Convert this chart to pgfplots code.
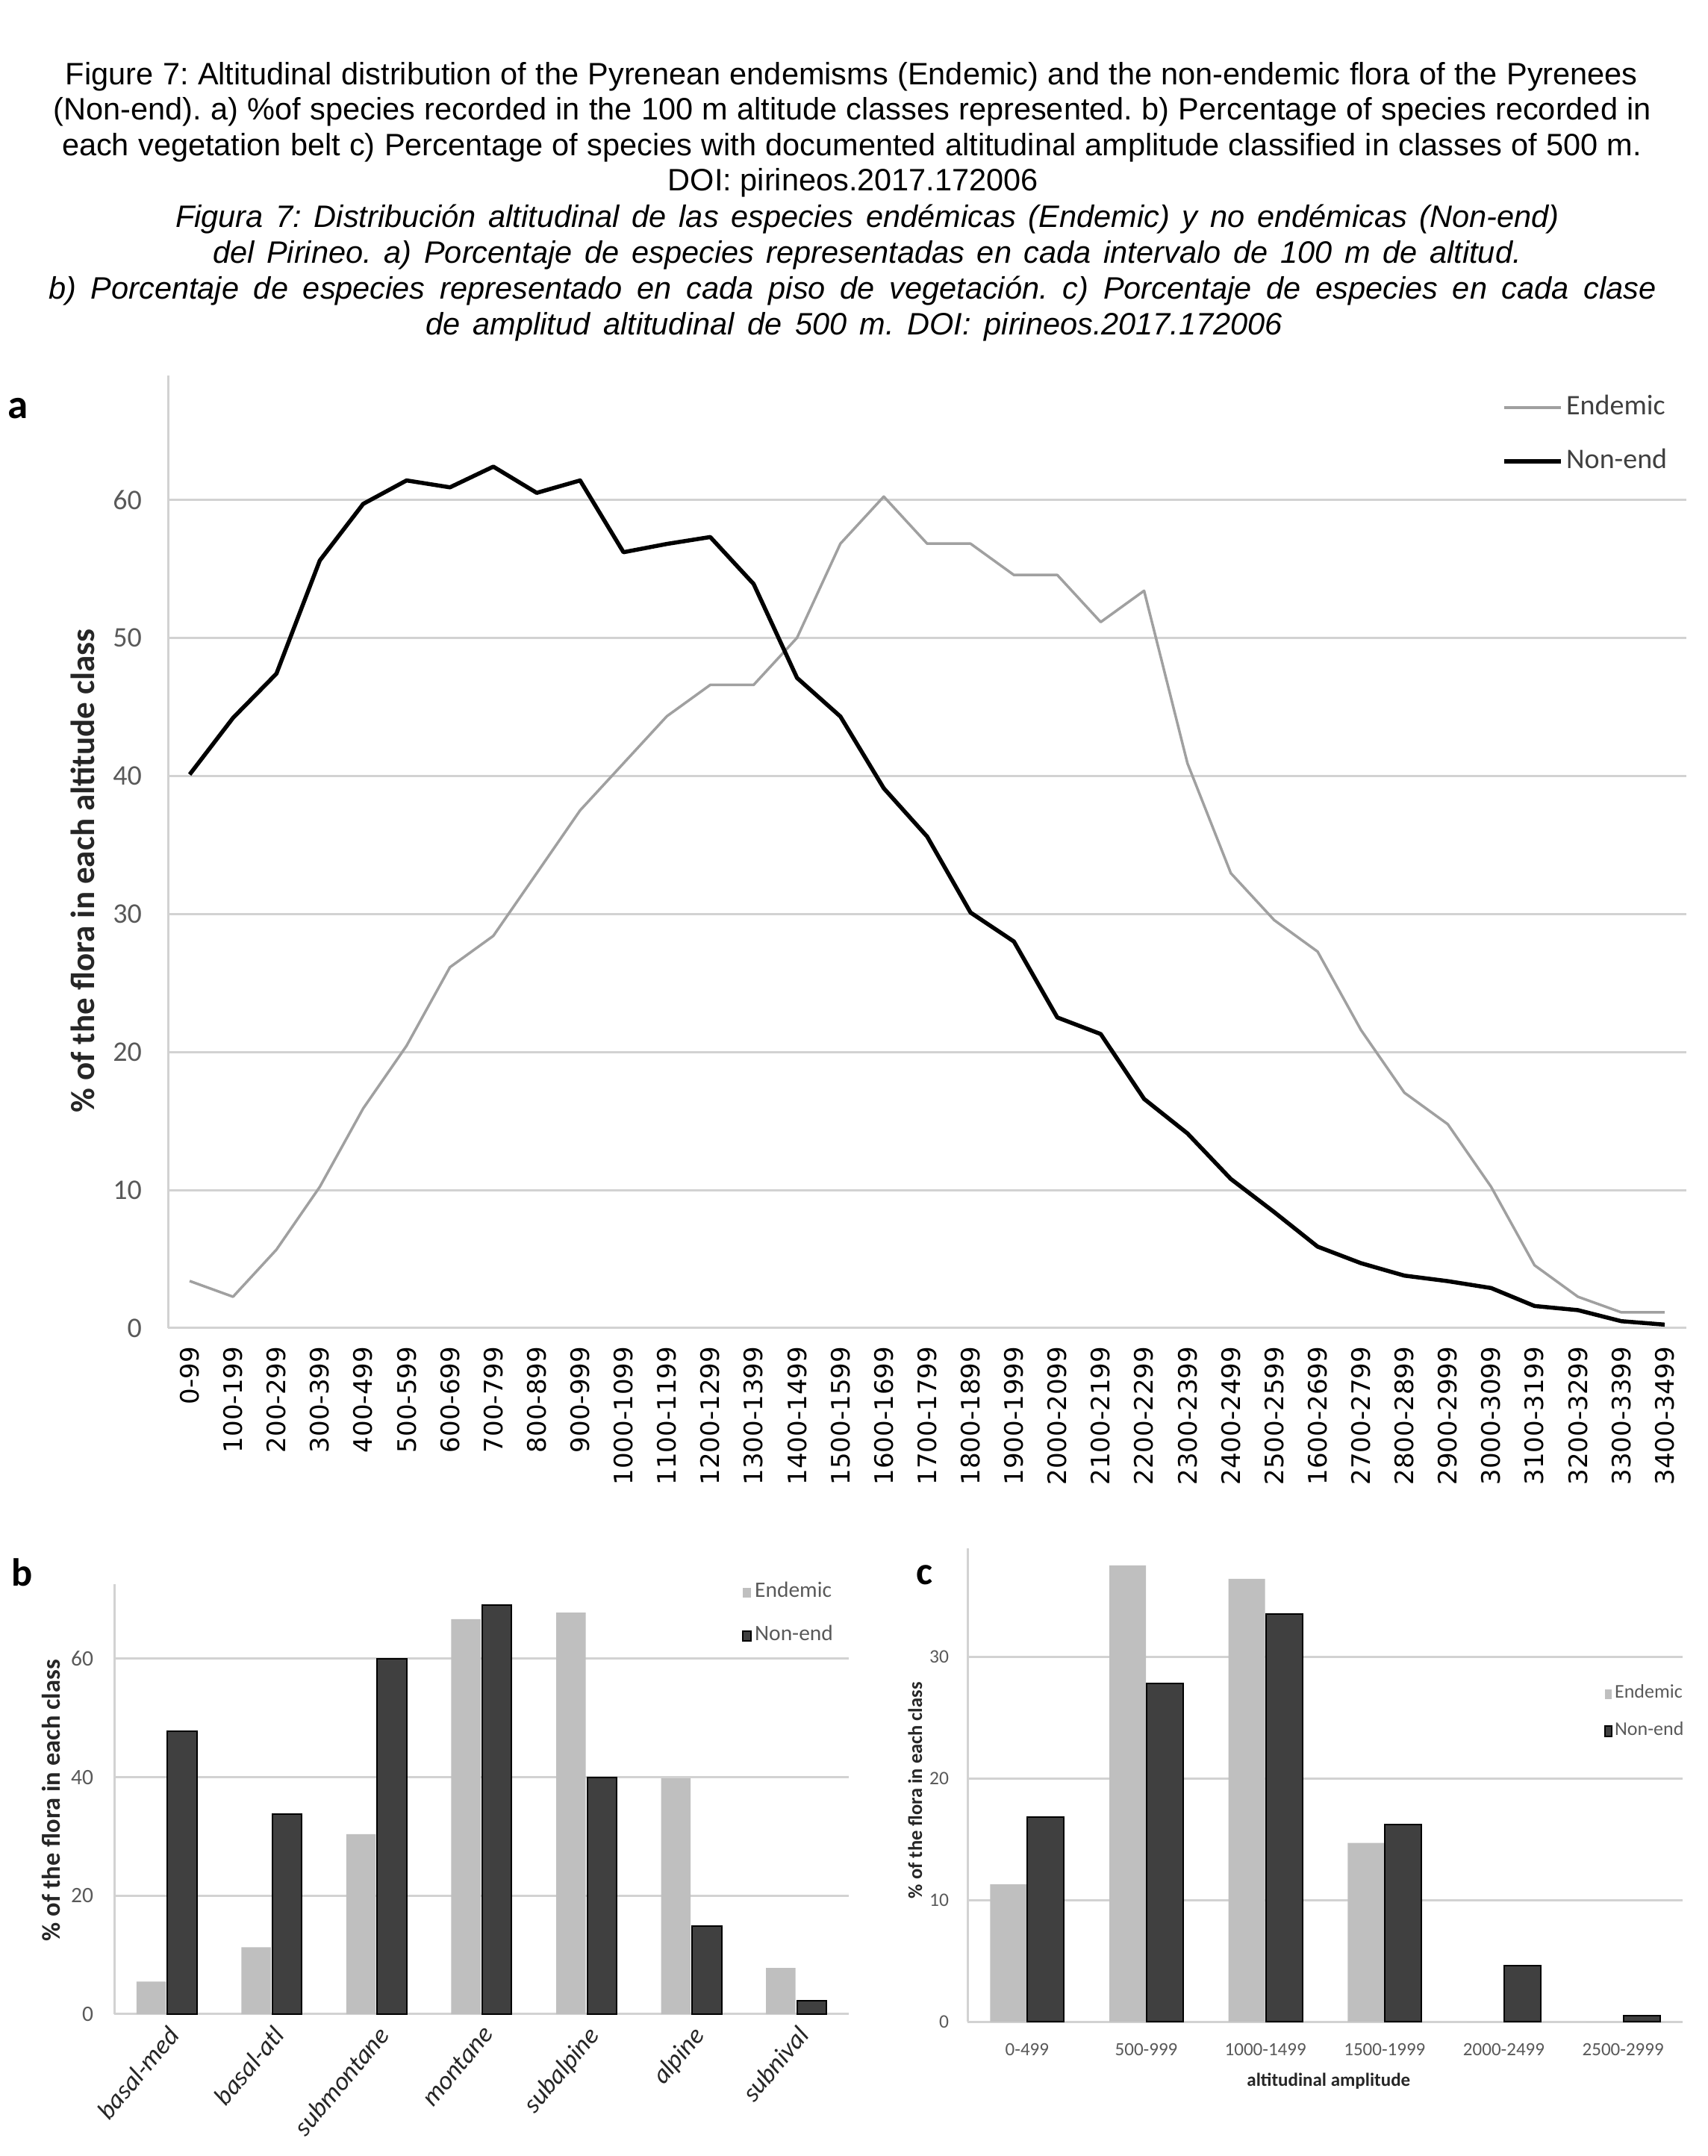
\documentclass[border=0pt]{standalone}
\usepackage{fontspec}
\setmainfont{Liberation Sans}
\newfontfamily\calibri{Carlito}
\newfontfamily\dejavu{DejaVu Sans}
\usepackage{pgfplots}
\pgfplotsset{compat=1.18}

\definecolor{gridgray}{RGB}{210,210,210}
\definecolor{endline}{RGB}{160,160,160}
\definecolor{barlight}{RGB}{191,191,191}
\definecolor{bardark}{RGB}{64,64,64}
\definecolor{ticktext}{RGB}{89,89,89}
\definecolor{labeltext}{RGB}{38,38,38}

\pgfplotsset{
  panel/.style={
    scale only axis, anchor=south west, clip=false,
    axis lines=left, axis line style={gridgray, line width=0.6pt, -},
    major tick length=0pt,
    ymajorgrids, grid style={gridgray, line width=0.6pt},
    ymin=0,
    yticklabel style={anchor=east, inner sep=0pt, text=ticktext,
      /pgf/number format/assume math mode=true},
    legend cell align=left,
  },
  sqlegend/.style={legend image code/.code={%
    \begin{scope}[##1]\fill (0pt,-1.35pt) rectangle (#1,1.35pt);\end{scope}}},
}

\begin{document}
\frenchspacing
\begin{tikzpicture}
\path[use as bounding box] (0,0) rectangle (457.4pt,577.6pt);

% caption
\begin{scope}[every node/.style={anchor=base, inner sep=0pt}]
\node[font=\fontsize{8.3}{9.5}\selectfont] at (228.2pt,554.94pt)
  {\makebox[421.2pt][s]{Figure 7: Altitudinal distribution of the Pyrenean endemisms (Endemic) and the non-endemic flora of the Pyrenees}};
\node[font=\fontsize{8.3}{9.5}\selectfont] at (228.4pt,545.46pt)
  {\makebox[428pt][s]{(Non-end). a) \%of species recorded in the 100 m altitude classes represented. b) Percentage of species recorded in}};
\node[font=\fontsize{8.3}{9.5}\selectfont] at (228.2pt,535.94pt)
  {\makebox[423.2pt][s]{each vegetation belt c) Percentage of species with documented altitudinal amplitude classified in classes of 500 m.}};
\node[font=\fontsize{8.3}{9.5}\selectfont] at (228.6pt,526.4pt)
  {DOI: pirineos.2017.172006};
\node[font=\itshape\fontsize{8.3}{9.5}\selectfont] at (232.4pt,516.6pt)
  {\makebox[370.8pt][s]{Figura 7: Distribución altitudinal de las especies endémicas (Endemic) y no endémicas (Non-end)}};
\node[font=\itshape\fontsize{8.3}{9.5}\selectfont] at (232.3pt,507.06pt)
  {\makebox[350.6pt][s]{del Pirineo. a) Porcentaje de especies representadas en cada intervalo de 100 m de altitud.}};
\node[font=\itshape\fontsize{8.3}{9.5}\selectfont] at (228.4pt,497.4pt)
  {\makebox[430.8pt][s]{b) Porcentaje de especies representado en cada piso de vegetación. c) Porcentaje de especies en cada clase}};
\node[font=\itshape\fontsize{8.3}{9.5}\selectfont] at (228.8pt,487.8pt)
  {\makebox[229.6pt][s]{de amplitud altitudinal de 500 m. DOI: pirineos.2017.172006}};
\end{scope}

% panel letters
\node[font=\calibri\bfseries\fontsize{11}{12}\selectfont, inner sep=0pt] at (4.8pt,468.2pt) {a};
\node[font=\calibri\bfseries\fontsize{10.5}{12}\selectfont, inner sep=0pt] at (6pt,156.4pt) {b};
\node[font=\calibri\bfseries\fontsize{10.5}{12}\selectfont, inner sep=0pt] at (247.6pt,155.6pt) {c};

% a) altitude classes
\begin{axis}[panel,
  at={(45pt,221.8pt)}, width=406.8pt, height=255.2pt,
  xmin=-0.5, xmax=34.5, ymax=69,
  ytick={0,10,...,60},
  xtick={0,...,34},
  xticklabels={0-99,100-199,200-299,300-399,400-499,500-599,600-699,700-799,800-899,900-999,1000-1099,1100-1199,1200-1299,1300-1399,1400-1499,1500-1599,1600-1699,1700-1799,1800-1899,1900-1999,2000-2099,2100-2199,2200-2299,2300-2399,2400-2499,2500-2599,1600-2699,2700-2799,2800-2899,2900-2999,3000-3099,3100-3199,3200-3299,3300-3399,3400-3499},
  xticklabel style={yshift=-4.8pt, rotate=90, anchor=east, inner sep=0pt,
    font=\dejavu\fontsize{6.8}{8}\selectfont, text=black},
  yticklabel style={xshift=-6.8pt, font=\calibri\fontsize{7.6}{9}\selectfont},
  ylabel={\% of the flora in each altitude class},
  every axis y label/.style={at={(axis description cs:0,0.48)}, xshift=-22.8pt, rotate=90,
    anchor=center, font=\calibri\bfseries\fontsize{9}{10}\selectfont, text=labeltext},
  legend style={at={(axis description cs:0.99,0.984)}, anchor=north east, draw=none, fill=none,
    inner sep=0pt, row sep=5.8pt, font=\calibri\fontsize{7.6}{9}\selectfont, text=bardark,
    nodes={inner sep=0.9pt}},
  legend image code/.code={\draw[#1, line cap=butt] (0pt,0pt) -- (15.2pt,0pt);},
]
\addplot[endline, line width=0.7pt, line join=round] coordinates {
  (0,3.41) (1,2.27) (2,5.68) (3,10.23) (4,15.91) (5,20.45) (6,26.14) (7,28.41)
  (8,32.95) (9,37.5) (10,40.91) (11,44.32) (12,46.59) (13,46.59) (14,50.0)
  (15,56.82) (16,60.23) (17,56.82) (18,56.82) (19,54.55) (20,54.55) (21,51.14)
  (22,53.41) (23,40.91) (24,32.95) (25,29.55) (26,27.27) (27,21.59) (28,17.05)
  (29,14.77) (30,10.23) (31,4.55) (32,2.27) (33,1.14) (34,1.14)};
\addlegendentry{Endemic}
\addplot[black, line width=1.1pt, line join=round] coordinates {
  (0,40.1) (1,44.2) (2,47.4) (3,55.6) (4,59.7) (5,61.4) (6,60.9) (7,62.4)
  (8,60.5) (9,61.4) (10,56.2) (11,56.8) (12,57.3) (13,53.9) (14,47.1)
  (15,44.3) (16,39.1) (17,35.6) (18,30.1) (19,28.0) (20,22.5) (21,21.3)
  (22,16.6) (23,14.1) (24,10.8) (25,8.4) (26,5.9) (27,4.7) (28,3.8)
  (29,3.4) (30,2.9) (31,1.6) (32,1.3) (33,0.5) (34,0.25)};
\addlegendentry{Non-end}
\end{axis}

% b) vegetation belts
\begin{axis}[panel,
  at={(30.6pt,38pt)}, width=196.8pt, height=115.2pt,
  xmin=-0.5, xmax=6.5, ymax=72.6,
  ytick={0,20,40,60},
  xtick={0,...,6},
  xticklabels={basal-med,basal-atl,submontane,montane,subalpine,alpine,subnival},
  xticklabel style={yshift=-2.5pt, rotate=50, anchor=north east, inner sep=0pt,
    font=\calibri\itshape\fontsize{7}{8}\selectfont, text=labeltext},
  yticklabel style={xshift=-5.4pt, font=\calibri\fontsize{5.9}{7}\selectfont},
  ylabel={\% of the flora in each class},
  every axis y label/.style={at={(axis description cs:0,0.497)}, xshift=-16.8pt, rotate=90,
    anchor=center, font=\calibri\bfseries\fontsize{6.9}{8}\selectfont, text=labeltext},
  legend style={at={(axis description cs:1,1)}, anchor=north east, xshift=-3.2pt, yshift=1.5pt,
    draw=none, fill=none, inner sep=0pt, row sep=4.4pt,
    font=\calibri\fontsize{5.9}{7}\selectfont, text=ticktext, nodes={inner sep=0.8pt}},
]
\addplot[ybar, bar width=7.9pt, bar shift=-4.15pt, fill=barlight, draw=none, sqlegend=2.3pt]
  coordinates {(0,5.5) (1,11.3) (2,30.4) (3,66.7) (4,67.8) (5,39.8) (6,7.8)};
\addlegendentry{Endemic}
\addplot[ybar, bar width=7.9pt, bar shift=4.15pt, fill=bardark, draw=black, line width=0.4pt, sqlegend=2.3pt]
  coordinates {(0,47.8) (1,33.8) (2,60.0) (3,69.1) (4,40.0) (5,14.9) (6,2.3)};
\addlegendentry{Non-end}
\end{axis}

% c) altitudinal amplitude
\begin{axis}[panel,
  at={(259.2pt,35.9pt)}, width=191.6pt, height=126.9pt,
  xmin=-0.5, xmax=5.5, ymax=38.9,
  ytick={0,10,20,30},
  xtick={0,...,5},
  xticklabels={0-499,500-999,1000-1499,1500-1999,2000-2499,2500-2999},
  xticklabel style={yshift=-5.5pt, anchor=north, inner sep=0pt,
    font=\calibri\fontsize{5}{6}\selectfont, text=ticktext},
  yticklabel style={xshift=-4.8pt, font=\calibri\fontsize{5.1}{6}\selectfont},
  xlabel={altitudinal amplitude},
  every axis x label/.style={at={(axis description cs:0.505,0)}, yshift=-15.9pt, anchor=center,
    font=\calibri\bfseries\fontsize{5}{6}\selectfont, text=labeltext},
  ylabel={\% of the flora in each class},
  every axis y label/.style={at={(axis description cs:0,0.489)}, xshift=-14pt, rotate=90,
    anchor=center, font=\calibri\bfseries\fontsize{5.3}{6}\selectfont, text=labeltext},
  legend style={at={(axis description cs:1,1)}, anchor=north east, xshift=1.2pt, yshift=-35.6pt,
    draw=none, fill=none, inner sep=0pt, row sep=3.4pt,
    font=\calibri\fontsize{5.2}{6}\selectfont, text=ticktext, nodes={inner sep=0.7pt}},
]
\addplot[ybar, bar width=9.8pt, bar shift=-5pt, fill=barlight, draw=none, sqlegend=1.8pt]
  coordinates {(0,11.3) (1,37.5) (2,36.4) (3,14.7) (4,0) (5,0)};
\addlegendentry{Endemic}
\addplot[ybar, bar width=9.8pt, bar shift=5pt, fill=bardark, draw=black, line width=0.4pt, sqlegend=1.8pt]
  coordinates {(0,16.8) (1,27.8) (2,33.5) (3,16.2) (4,4.65) (5,0.55)};
\addlegendentry{Non-end}
\end{axis}
\end{tikzpicture}
\end{document}
